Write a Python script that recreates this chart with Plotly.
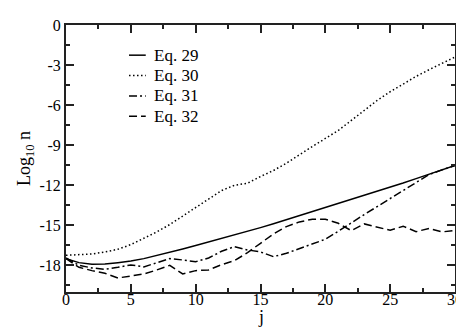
import plotly.graph_objects as go

j = list(range(31))

eq29 = [-17.5, -17.8, -17.92, -17.9, -17.8, -17.68, -17.5, -17.27, -17.03, -16.78,
        -16.52, -16.26, -15.99, -15.72, -15.45, -15.18, -14.89, -14.59, -14.29, -13.99,
        -13.69, -13.39, -13.08, -12.78, -12.47, -12.16, -11.84, -11.51, -11.18, -10.85,
        -10.52]
eq30 = [-17.25, -17.2, -17.15, -17.0, -16.8, -16.45, -16.0, -15.5, -14.95, -14.3,
        -13.65, -13.0, -12.4, -12.0, -11.85, -11.35, -10.9, -10.35, -9.7, -9.1,
        -8.5, -7.9, -7.15, -6.4, -5.65, -5.0, -4.4, -3.85, -3.35, -2.85,
        -2.4]
eq31 = [-17.45, -18.0, -18.2, -18.3, -18.15, -17.97, -18.12, -17.8, -17.5, -17.6,
        -17.73, -17.45, -16.95, -16.6, -16.85, -17.0, -17.35, -17.1, -16.75, -16.45,
        -16.05, -15.45, -14.8, -14.2, -13.6, -13.0, -12.45, -11.8, -11.2, -10.85,
        -10.52]
eq32 = [-17.5, -18.15, -18.4, -18.6, -18.95, -18.8, -18.65, -18.35, -18.0, -18.65,
        -18.4, -18.35, -17.95, -17.65, -17.05, -16.35, -15.65, -15.1, -14.75, -14.55,
        -14.55, -14.85, -15.4, -14.9, -15.15, -15.38, -15.07, -15.48, -15.24, -15.5,
        -15.38]

names = ["Eq. 29", "Eq. 30", "Eq. 31", "Eq. 32"]
ytick_vals = [0, -3, -6, -9, -12, -15, -18]
ytick_text = ["0", "-3", "-6", "-9", "-12", "-15", "-18"]
xtick_vals = [0, 5, 10, 15, 20, 25, 30]

FONT = "Liberation Serif"
dashes = ["solid", "1.5px,2.5px", "8px,3px,2px,3px", "8px,4px"]

fig = go.Figure()
for name, ys, d in zip(names, [eq29, eq30, eq31, eq32], dashes):
    fig.add_trace(go.Scatter(
        x=j, y=ys, name=name, mode="lines", showlegend=False,
        line=dict(color="black", width=1.5, dash=d),
    ))

# hand-drawn legend (short sample lines like the original)
leg_top, leg_step = 0.887, 0.0763
for i, (name, d) in enumerate(zip(names, dashes)):
    yy = leg_top - i * leg_step
    fig.add_shape(type="line", xref="paper", yref="paper",
                  x0=0.162, x1=0.205, y0=yy, y1=yy,
                  line=dict(color="black", width=1.5, dash=d))
    fig.add_annotation(xref="paper", yref="paper", x=0.22, y=yy,
                       xanchor="left", yanchor="middle", showarrow=False,
                       text=name, font=dict(family=FONT, size=17, color="black"))

fig.add_annotation(xref="paper", yref="paper", x=0.5, y=-0.092,
                   xanchor="center", yanchor="middle", showarrow=False,
                   text="j", font=dict(family=FONT, size=18, color="black"))

axis_common = dict(
    showline=True, linecolor="#222", linewidth=2, mirror="allticks",
    ticks="inside", ticklen=8, tickwidth=1.5, tickcolor="#222",
    showgrid=False, zeroline=False,
    tickfont=dict(family=FONT, size=16, color="black"),
)

fig.update_layout(
    width=464, height=327,
    margin=dict(l=58, r=11, t=9, b=43),
    plot_bgcolor="white", paper_bgcolor="white",
    font=dict(family=FONT, color="black"),
    showlegend=False,
    xaxis=dict(
        range=[0, 30], tickvals=xtick_vals, ticklabelstandoff=-8,
        minor=dict(dtick=2.5, tick0=0, ticks="inside", ticklen=4, tickwidth=1.5, tickcolor="#222"),
        **axis_common,
    ),
    yaxis=dict(
        range=[-20, 0], tickvals=ytick_vals, ticktext=ytick_text,
        minor=dict(dtick=1.5, tick0=0, ticks="inside", ticklen=4, tickwidth=1.5, tickcolor="#222"),
        title=dict(text="Log<sub>10</sub> n", font=dict(family=FONT, size=18), standoff=4),
        **axis_common,
    ),
)

fig.write_html("out.html")
